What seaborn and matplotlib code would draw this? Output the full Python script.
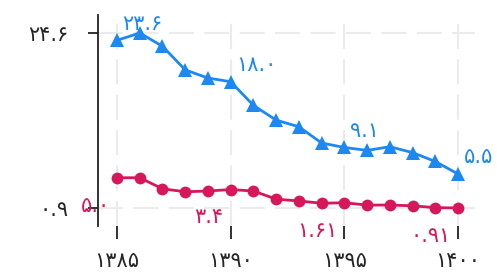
import matplotlib
matplotlib.use("Agg")
import matplotlib.pyplot as plt
import seaborn as sns
import pandas as pd

# years (solar hijri) and the two series
years = list(range(1385, 1401))
blue_vals = [23.6, 24.6, 22.8, 19.6, 18.5, 18.0, 14.8, 12.8,
             11.9, 9.7, 9.1, 8.7, 9.2, 8.4, 7.2, 5.5]
red_vals = [5.0, 5.0, 3.5, 3.1, 3.2, 3.4, 3.2, 2.1,
            1.85, 1.55, 1.61, 1.3, 1.3, 1.2, 0.95, 0.91]

# labelled points and their text
label_years = [1385, 1390, 1395, 1400]
blue_labels = ["۲۳.۶", "۱۸.۰", "۹.۱", "۵.۵"]
red_labels = ["۵.۰", "۳.۴", "۱.۶۱", "۰.۹۱"]

x_ticks = [1385, 1390, 1395, 1400]
x_ticklabels = ["۱۳۸۵", "۱۳۹۰", "۱۳۹۵", "۱۴۰۰"]
y_ticks = [0.91, 24.6]
y_ticklabels = ["۰.۹", "۲۴.۶"]

BLUE = "#1E88F2"
RED = "#D6175A"

sns.set_style("white")
plt.rcParams["font.family"] = ["DejaVu Sans"]

df = pd.DataFrame({"year": years, "blue": blue_vals, "red": red_vals})

fig = plt.figure(figsize=(4.97, 2.72), dpi=100)
ax = fig.add_axes([0.197, 0.169, 0.759, 0.776])

sns.lineplot(data=df, x="year", y="blue", ax=ax, color=BLUE, marker="^",
             markersize=10, linewidth=2, markeredgewidth=0, zorder=3)
sns.lineplot(data=df, x="year", y="red", ax=ax, color=RED, marker="o",
             markersize=8.5, linewidth=2, markeredgewidth=0, zorder=3)

for yr, b, r, bl, rl in zip(label_years,
                            [blue_vals[years.index(y)] for y in label_years],
                            [red_vals[years.index(y)] for y in label_years],
                            blue_labels, red_labels):
    ax.annotate(bl, (yr, b), xytext=(4, 12), textcoords="offset points",
                ha="left", va="center", color=BLUE, fontsize=15)
    ax.annotate(rl, (yr, r), xytext=(-5, -20), textcoords="offset points",
                ha="right", va="center", color=RED, fontsize=15)

ax.set_xlim(1384.16, 1400.75)
ax.set_ylim(-1.54, 27.04)
ax.set_xticks(x_ticks)
ax.set_xticklabels(x_ticklabels)
ax.set_yticks(y_ticks)
ax.set_yticklabels(y_ticklabels)
ax.set_xlabel("")
ax.set_ylabel("")

ax.grid(True, color="#ebebeb", linewidth=1.5, linestyle=(0, (12, 5)), zorder=0)
ax.set_axisbelow(True)

for side in ["top", "right", "bottom"]:
    ax.spines[side].set_visible(False)
ax.spines["left"].set_color("#222222")
ax.spines["left"].set_linewidth(1.3)

ax.tick_params(axis="x", direction="out", length=9, width=1.3, color="#222222",
               pad=9, labelsize=15, bottom=True)
ax.tick_params(axis="y", direction="out", length=7, width=1.3, color="#222222",
               pad=14, labelsize=15, left=True)

fig.savefig("out.png", dpi=100)
